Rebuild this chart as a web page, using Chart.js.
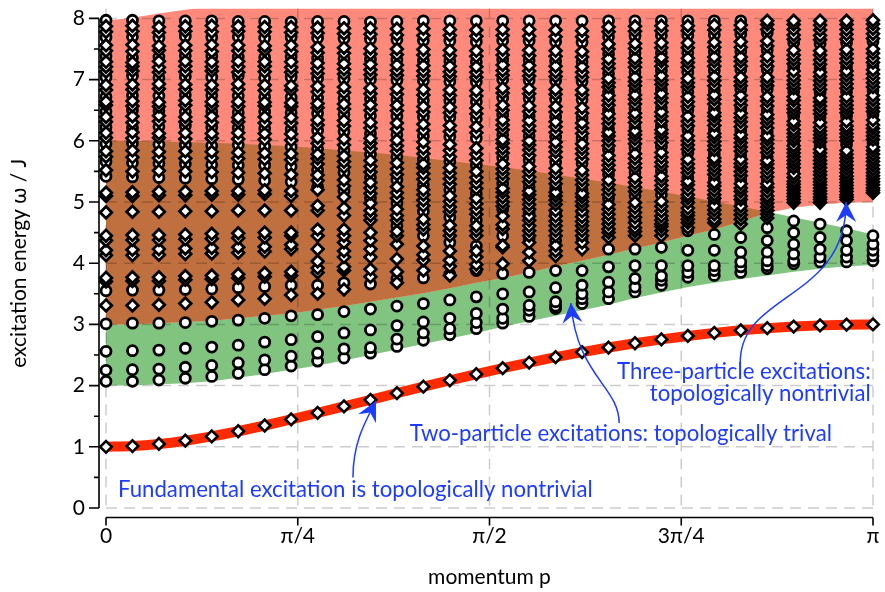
<!DOCTYPE html>
<html>
<head>
<meta charset="utf-8">
<title>Excitation spectrum</title>
<script src="https://cdn.jsdelivr.net/npm/chart.js@4.4.0/dist/chart.umd.min.js"></script>
<style>
  html, body { margin: 0; padding: 0; background: #fff; }
  #wrap { width: 885px; height: 592px; }
</style>
</head>
<body>
<div id="wrap"><canvas id="spectrum" width="885" height="592"></canvas></div>
<script>
// momentum p of each column, in units of pi
const momentum = [0, 0.0345, 0.0690, 0.1034, 0.1379, 0.1724, 0.2069, 0.2414, 0.2759, 0.3103,
  0.3448, 0.3793, 0.4138, 0.4483, 0.4828, 0.5172, 0.5517, 0.5862, 0.6207, 0.6552,
  0.6897, 0.7241, 0.7586, 0.7931, 0.8276, 0.8621, 0.8966, 0.9310, 0.9655, 1];

// single-particle branch
const fundamental = [1.000, 1.012, 1.046, 1.100, 1.170, 1.254, 1.348, 1.448, 1.553, 1.660,
  1.768, 1.876, 1.982, 2.086, 2.187, 2.284, 2.376, 2.464, 2.546, 2.622,
  2.692, 2.755, 2.811, 2.861, 2.903, 2.938, 2.965, 2.984, 2.996, 3.000];

// continuum edges
const twoLow = [2.00, 2.00, 2.02, 2.04, 2.07, 2.13, 2.19, 2.26, 2.33, 2.41,
  2.50, 2.59, 2.68, 2.77, 2.86, 2.96, 3.05, 3.14, 3.23, 3.32,
  3.43, 3.52, 3.61, 3.68, 3.74, 3.80, 3.86, 3.91, 3.95, 3.97];
const twoHigh = [6.00, 6.00, 5.99, 5.98, 5.97, 5.95, 5.93, 5.91, 5.88, 5.84,
  5.81, 5.77, 5.72, 5.67, 5.62, 5.57, 5.51, 5.45, 5.38, 5.32,
  5.24, 5.17, 5.09, 5.01, 4.93, 4.84, 4.75, 4.66, 4.57, 4.47];
const threeLow = [3.00, 3.00, 3.02, 3.04, 3.06, 3.10, 3.14, 3.18, 3.24, 3.30,
  3.37, 3.44, 3.51, 3.59, 3.68, 3.76, 3.85, 3.95, 4.04, 4.14,
  4.24, 4.34, 4.45, 4.55, 4.68, 4.82, 4.91, 4.96, 4.99, 5.00];
const threeHigh = [7.96, 8.01, 8.08, 8.14, 8.20, 8.27, 8.33, 8.39, 8.45, 8.50,
  8.55, 8.60, 8.64, 8.68, 8.72, 8.76, 8.79, 8.82, 8.85, 8.87,
  8.89, 8.91, 8.93, 8.94, 8.95, 8.96, 8.97, 8.98, 8.99, 9.00];

// finite-chain eigenvalues per momentum column: circles and diamonds
const circleLevels = [
  [2.07,2.25,2.56,3.01,3.55,5.42,5.66,5.95,6.22,6.48,6.72,7.04,7.38,7.69,7.97],
  [2.07,2.26,2.57,3.02,3.56,5.41,5.64,5.96,6.21,6.50,6.74,7.06,7.36,7.70,7.97],
  [2.09,2.27,2.58,3.02,3.56,5.40,5.63,5.94,6.23,6.49,6.73,7.03,7.37,7.68,7.96],
  [2.12,2.30,2.61,3.03,3.57,5.39,5.62,5.93,6.24,6.47,6.75,7.05,7.39,7.71,7.96],
  [2.15,2.33,2.63,3.05,3.58,5.38,5.61,5.92,6.22,6.48,6.74,7.04,7.38,7.69,7.96],
  [2.20,2.37,2.66,3.07,3.60,5.37,5.60,5.93,6.21,6.46,6.73,7.06,7.37,7.70,7.95],
  [2.26,2.42,2.71,3.10,3.62,5.35,5.60,5.91,6.20,6.47,6.72,7.03,7.36,7.68,7.95],
  [2.32,2.48,2.75,3.14,3.64,5.33,5.58,5.90,6.19,6.46,6.71,7.04,7.37,7.69,7.94],
  [2.40,2.53,2.80,3.16,3.64,5.25,5.52,5.87,6.17,6.45,6.70,7.02,7.35,7.68,7.95],
  [2.45,2.60,2.86,3.21,3.68,5.18,5.48,5.84,6.15,6.43,6.69,7.01,7.34,7.67,7.95],
  [2.53,2.62,2.91,3.25,3.66,5.06,5.40,5.78,6.12,6.41,6.68,7.00,7.33,7.66,7.94],
  [2.64,2.76,2.98,3.30,3.75,4.61,4.98,5.36,5.74,6.10,6.40,6.67,6.99,7.32,7.65,7.95],
  [2.74,2.86,3.04,3.34,3.76,4.45,4.85,5.28,5.70,6.08,6.39,6.66,6.98,7.31,7.64,7.96],
  [2.83,2.93,3.10,3.40,3.82,4.34,4.75,5.20,5.66,6.06,6.38,6.65,6.97,7.30,7.63,7.96],
  [2.93,3.03,3.18,3.45,3.88,4.28,4.70,5.14,5.60,6.04,6.36,6.64,6.96,7.29,7.62,7.96],
  [3.02,3.10,3.25,3.50,3.83,4.45,4.88,5.30,5.72,6.10,6.42,6.70,7.00,7.32,7.64,7.96],
  [3.13,3.23,3.31,3.53,3.85,4.40,4.82,5.25,5.68,6.08,6.40,6.69,6.99,7.31,7.63,7.96],
  [3.26,3.30,3.37,3.60,3.88,4.37,4.80,5.22,5.65,6.06,6.39,6.68,6.98,7.30,7.62,7.96],
  [3.34,3.42,3.50,3.64,3.88,4.40,4.82,5.20,5.63,6.04,6.37,6.67,6.97,7.29,7.61,7.96],
  [3.42,3.53,3.69,3.94,4.23,4.65,5.05,5.45,5.85,6.20,6.50,6.80,7.10,7.42,7.70,7.96],
  [3.53,3.61,3.75,3.96,4.23,4.70,5.10,5.48,5.88,6.22,6.52,6.82,7.12,7.43,7.71,7.96],
  [3.64,3.72,3.79,3.96,4.26,4.72,5.12,5.50,5.90,6.24,6.54,6.84,7.14,7.44,7.72,7.96],
  [3.77,3.85,3.96,4.21,4.53,5.00,5.40,5.80,6.18,6.50,6.80,7.12,7.44,7.72,7.96],
  [3.80,3.88,3.96,4.21,4.47,5.00,5.38,5.78,6.18,6.52,6.82,7.14,7.45,7.73,7.96],
  [3.85,3.94,4.02,4.18,4.42,4.98,5.36,5.76,6.16,6.52,6.84,7.16,7.46,7.74,7.96],
  [3.91,3.96,4.04,4.18,4.37,4.58,5.34,5.74,6.14,6.50,6.84,7.16,7.48,7.76],
  [3.99,4.04,4.15,4.31,4.50,4.69,5.50,5.95,6.40,6.80,7.20,7.60],
  [4.02,4.10,4.23,4.42,4.64,5.45,5.92,6.38,6.78,7.18,7.58],
  [4.02,4.10,4.21,4.37,4.53,5.48,5.94,6.40,6.80,7.20,7.60],
  [4.04,4.12,4.21,4.31,4.45,5.50,5.96,6.42,6.82,7.22,7.62]
];
const diamondLevels = [
  [3.31,3.70,3.76,4.13,4.21,4.37,4.45,4.83,5.10,5.15,5.52,5.74,5.83,6.05,6.13,6.31,6.39,6.58,6.64,6.83,6.91,7.13,7.21,7.29,7.47,7.56,7.78,7.87],
  [3.31,3.71,3.77,4.13,4.22,4.38,4.46,4.84,5.10,5.16,5.50,5.73,5.84,6.04,6.14,6.30,6.40,6.57,6.65,6.84,6.92,7.14,7.22,7.28,7.46,7.57,7.79,7.88],
  [3.32,3.71,3.77,4.14,4.23,4.38,4.46,4.84,5.11,5.17,5.51,5.72,5.82,6.05,6.12,6.32,6.41,6.56,6.63,6.85,6.93,7.12,7.20,7.30,7.48,7.55,7.77,7.86],
  [3.34,3.73,3.79,4.15,4.24,4.39,4.47,4.85,5.11,5.17,5.50,5.71,5.83,6.03,6.13,6.31,6.39,6.58,6.66,6.84,6.92,7.13,7.22,7.30,7.47,7.56,7.79,7.87],
  [3.36,3.74,3.80,4.16,4.25,4.40,4.48,4.85,5.12,5.18,5.49,5.72,5.82,6.04,6.12,6.30,6.40,6.57,6.64,6.83,6.91,7.14,7.21,7.29,7.46,7.57,7.78,7.88],
  [3.40,3.76,3.82,4.17,4.26,4.41,4.49,4.86,5.12,5.18,5.48,5.71,5.81,6.03,6.13,6.31,6.38,6.56,6.64,6.84,6.93,7.12,7.21,7.30,7.47,7.56,7.79,7.87],
  [3.42,3.78,3.84,4.19,4.27,4.42,4.50,4.86,5.13,5.19,5.47,5.70,5.80,6.02,6.12,6.29,6.39,6.57,6.63,6.82,6.91,7.13,7.22,7.29,7.48,7.55,7.78,7.86],
  [3.48,3.80,3.86,4.23,4.30,4.45,4.50,4.86,5.10,5.18,5.45,5.69,5.79,6.01,6.11,6.29,6.38,6.56,6.62,6.83,6.90,7.12,7.20,7.29,7.46,7.56,7.77,7.86],
  [3.50,3.85,3.92,4.03,4.23,4.45,4.55,4.86,4.94,5.20,5.35,5.44,5.62,5.71,5.78,5.96,6.05,6.26,6.34,6.54,6.61,6.80,6.89,7.10,7.18,7.27,7.44,7.53,7.76,7.85],
  [3.57,3.88,3.94,4.10,4.20,4.34,4.45,4.55,4.78,4.90,5.08,5.26,5.36,5.57,5.66,5.75,5.93,6.03,6.24,6.33,6.52,6.60,6.79,6.88,7.09,7.17,7.26,7.43,7.52,7.75,7.84],
  [3.78,3.90,4.10,4.23,4.37,4.50,4.70,4.78,4.86,4.98,5.14,5.23,5.32,5.49,5.58,5.68,5.87,5.96,6.04,6.21,6.30,6.50,6.59,6.77,6.86,7.08,7.16,7.25,7.42,7.51,7.74,7.84],
  [3.68,3.86,4.07,4.31,4.45,4.52,4.70,4.78,4.88,5.06,5.15,5.25,5.45,5.54,5.64,5.83,5.92,6.01,6.19,6.29,6.49,6.58,6.76,6.85,7.07,7.15,7.24,7.41,7.50,7.73,7.83],
  [3.88,4.05,4.14,4.28,4.55,4.63,4.72,4.94,5.03,5.12,5.20,5.37,5.46,5.56,5.62,5.79,5.88,5.98,6.17,6.27,6.47,6.56,6.75,6.84,7.06,7.14,7.23,7.40,7.49,7.72,7.83],
  [3.80,3.95,4.05,4.20,4.45,4.53,4.62,4.84,4.92,5.01,5.10,5.29,5.38,5.47,5.56,5.74,5.84,5.94,6.15,6.25,6.46,6.55,6.74,6.83,7.05,7.13,7.22,7.39,7.48,7.72,7.82],
  [3.90,3.98,4.10,4.20,4.45,4.53,4.61,4.80,4.88,4.97,5.06,5.22,5.31,5.40,5.50,5.68,5.78,5.88,6.13,6.23,6.44,6.53,6.73,6.82,7.04,7.12,7.21,7.38,7.47,7.71,7.81],
  [3.99,4.26,4.29,4.56,4.63,4.77,4.93,5.00,5.08,5.16,5.22,5.38,5.46,5.54,5.62,5.80,5.88,5.96,6.02,6.18,6.26,6.34,6.50,6.58,6.78,6.86,7.07,7.15,7.24,7.40,7.49,7.72,7.82],
  [4.04,4.18,4.34,4.45,4.53,4.61,4.70,4.77,4.88,4.96,5.04,5.12,5.18,5.33,5.41,5.50,5.58,5.76,5.85,5.93,6.00,6.16,6.24,6.33,6.48,6.57,6.77,6.85,7.06,7.14,7.23,7.39,7.48,7.71,7.82],
  [4.12,4.20,4.29,4.45,4.53,4.61,4.69,4.77,4.86,4.96,5.03,5.10,5.16,5.30,5.38,5.47,5.55,5.73,5.82,5.90,5.98,6.14,6.23,6.31,6.47,6.56,6.76,6.84,7.05,7.13,7.22,7.38,7.47,7.70,7.81],
  [4.23,4.34,4.45,4.53,4.61,4.68,4.76,4.85,4.94,5.01,5.08,5.14,5.28,5.36,5.44,5.52,5.70,5.79,5.87,5.95,6.12,6.21,6.29,6.45,6.54,6.75,6.83,7.04,7.12,7.21,7.37,7.46,7.70,7.80],
  [4.42,4.50,4.56,4.64,4.72,4.80,4.88,4.96,5.12,5.20,5.28,5.36,5.52,5.60,5.68,5.76,5.92,6.00,6.08,6.14,6.28,6.36,6.44,6.58,6.66,6.74,6.88,6.95,7.02,7.18,7.26,7.34,7.50,7.58,7.78,7.86],
  [4.45,4.52,4.58,4.66,4.75,4.83,4.91,4.99,5.17,5.24,5.32,5.40,5.56,5.63,5.71,5.79,5.95,6.03,6.10,6.16,6.30,6.38,6.45,6.60,6.68,6.75,6.90,6.97,7.04,7.20,7.28,7.35,7.51,7.59,7.79,7.87],
  [4.45,4.53,4.60,4.64,4.70,4.77,4.85,4.93,5.01,5.20,5.27,5.35,5.42,5.58,5.65,5.73,5.81,5.97,6.05,6.12,6.18,6.32,6.40,6.47,6.62,6.70,6.77,6.92,6.99,7.06,7.22,7.30,7.36,7.52,7.60,7.80,7.88],
  [4.58,4.66,4.72,4.78,4.83,4.90,4.99,5.06,5.12,5.20,5.28,5.34,5.48,5.55,5.62,5.70,5.86,5.93,6.00,6.08,6.24,6.32,6.40,6.56,6.64,6.72,6.88,6.95,7.02,7.20,7.28,7.35,7.52,7.60,7.80,7.88],
  [4.66,4.72,4.80,4.87,4.94,5.06,5.12,5.19,5.26,5.32,5.45,5.52,5.59,5.66,5.72,5.85,5.92,5.99,6.06,6.12,6.25,6.33,6.40,6.46,6.60,6.68,6.75,6.90,6.98,7.05,7.22,7.30,7.37,7.53,7.61,7.81,7.89],
  [4.64,4.72,4.79,4.86,4.93,5.04,5.10,5.17,5.23,5.30,5.43,5.50,5.57,5.63,5.70,5.83,5.90,5.97,6.04,6.10,6.23,6.31,6.38,6.45,6.58,6.66,6.74,6.90,6.97,7.04,7.22,7.30,7.37,7.53,7.62,7.81,7.89],
  [4.74,4.80,4.86,4.92,4.98,5.04,5.10,5.17,5.24,5.30,5.41,5.48,5.55,5.62,5.68,5.81,5.88,5.95,6.02,6.08,6.21,6.29,6.36,6.43,6.57,6.65,6.72,6.90,6.97,7.04,7.22,7.30,7.38,7.55,7.63,7.82,7.90,7.96],
  [4.99,5.04,5.09,5.14,5.19,5.24,5.29,5.34,5.40,5.46,5.56,5.62,5.68,5.74,5.80,5.86,5.92,6.00,6.06,6.12,6.18,6.26,6.32,6.46,6.52,6.58,6.66,6.72,6.86,6.92,6.99,7.06,7.14,7.26,7.33,7.40,7.48,7.66,7.73,7.82,7.90,7.96],
  [4.99,5.04,5.08,5.13,5.18,5.23,5.28,5.33,5.38,5.44,5.50,5.56,5.62,5.68,5.74,5.80,5.86,5.98,6.04,6.10,6.16,6.22,6.30,6.44,6.50,6.57,6.64,6.70,6.84,6.91,6.98,7.05,7.12,7.25,7.32,7.40,7.47,7.65,7.72,7.81,7.89,7.96],
  [5.04,5.08,5.12,5.17,5.22,5.27,5.32,5.37,5.42,5.48,5.54,5.60,5.66,5.72,5.78,5.84,6.00,6.06,6.12,6.18,6.24,6.32,6.46,6.52,6.58,6.65,6.72,6.86,6.93,7.00,7.07,7.14,7.27,7.34,7.42,7.49,7.66,7.74,7.82,7.90,7.96],
  [5.15,5.19,5.23,5.28,5.33,5.38,5.43,5.48,5.54,5.60,5.66,5.72,5.78,5.84,5.90,6.02,6.08,6.14,6.20,6.26,6.34,6.48,6.54,6.60,6.67,6.74,6.88,6.95,7.02,7.09,7.16,7.28,7.35,7.43,7.50,7.67,7.75,7.83,7.91,7.97]
];

const xTickValues = [0, 0.25, 0.5, 0.75, 1];
const xTickLabels = ['0', 'π/4', 'π/2', '3π/4', 'π'];
const yTickValues = [0, 1, 2, 3, 4, 5, 6, 7, 8];

const FONT = 'Lato, "Open Sans", "DejaVu Sans", sans-serif';
const BLUE = '#1e3cff';
const GREEN = '#80c47f';
const RED = '#ff8a7c';
const BROWN = '#c0703e';

// annotation anchors, in (p/pi, omega)
const notes = [
  { text: 'Fundamental excitation is topologically nontrivial', at: [0.0156, 0.29], align: 'left' },
  { text: 'Two-particle excitations: topologically trival', at: [0.396, 1.215], align: 'left' },
  { text: 'Three-particle excitations:', at: [0.997, 2.22], align: 'right' },
  { text: 'topologically nontrivial', at: [0.997, 1.86], align: 'right' }
];
const arrows = [
  [[0.322, 0.50], [0.322, 1.10], [0.340, 1.45], [0.352, 1.75]],
  [[0.669, 1.39], [0.669, 1.99], [0.614, 2.15], [0.606, 3.35]],
  [[0.827, 2.35], [0.824, 3.53], [0.965, 3.37], [0.965, 5.00]]
];

const toXY = (xs, ys) => ys.map((y, i) => ({ x: xs[i], y }));
function columnPoints(levels) {
  const pts = [];
  levels.forEach((col, j) => col.forEach(w => pts.push({ x: momentum[j], y: w })));
  return pts;
}

// dashed grid goes over the coloured bands but under the markers
const dashedGrid = {
  id: 'dashedGrid',
  afterDatasetDraw(chart, args) {
    if (args.index !== 4) return;
    const { ctx, chartArea: a, scales: { x, y } } = chart;
    ctx.save();
    ctx.strokeStyle = 'rgba(0,0,0,0.2)';
    ctx.lineWidth = 1.5;
    ctx.setLineDash([11, 7]);
    ctx.beginPath();
    xTickValues.forEach(v => {
      const px = x.getPixelForValue(v);
      ctx.moveTo(px, a.top);
      ctx.lineTo(px, a.bottom);
    });
    yTickValues.forEach(v => {
      const py = y.getPixelForValue(v);
      ctx.moveTo(a.left, py);
      ctx.lineTo(a.right, py);
    });
    ctx.stroke();
    ctx.restore();
  }
};

function arrowHead(ctx, tx, ty, fx, fy) {
  const ang = Math.atan2(ty - fy, tx - fx);
  const c = Math.cos(ang), s = Math.sin(ang);
  const len = 20, half = 10, notch = 13;
  ctx.beginPath();
  ctx.moveTo(tx, ty);
  ctx.lineTo(tx - len * c - half * s, ty - len * s + half * c);
  ctx.lineTo(tx - notch * c, ty - notch * s);
  ctx.lineTo(tx - len * c + half * s, ty - len * s - half * c);
  ctx.closePath();
  ctx.fill();
}

const annotations = {
  id: 'annotations',
  afterDatasetsDraw(chart) {
    const { ctx, scales: { x, y } } = chart;
    const P = ([p, w]) => [x.getPixelForValue(p), y.getPixelForValue(w)];
    ctx.save();
    ctx.fillStyle = BLUE;
    ctx.strokeStyle = BLUE;
    ctx.font = '22.2px ' + FONT;
    ctx.textBaseline = 'middle';
    notes.forEach(n => {
      const [px, py] = P(n.at);
      ctx.textAlign = n.align;
      ctx.fillText(n.text, px, py);
    });
    ctx.lineWidth = 1.5;
    arrows.forEach(a => {
      const [s, c1, c2, t] = a.map(P);
      ctx.beginPath();
      ctx.moveTo(s[0], s[1]);
      ctx.bezierCurveTo(c1[0], c1[1], c2[0], c2[1], t[0], t[1]);
      ctx.stroke();
      arrowHead(ctx, t[0], t[1], c2[0], c2[1]);
    });
    ctx.restore();
  }
};

// axes drawn detached from the plot area, like the original figure
const offsetAxes = {
  id: 'offsetAxes',
  afterDraw(chart) {
    const { ctx, chartArea: a, scales: { x, y } } = chart;
    const ax = a.left - 7;
    const ay = a.bottom + 9.5;
    ctx.save();
    ctx.strokeStyle = '#000';
    ctx.fillStyle = '#000';
    ctx.lineWidth = 1.6;
    ctx.beginPath();
    ctx.moveTo(ax, y.getPixelForValue(0));
    ctx.lineTo(ax, y.getPixelForValue(8));
    for (let v = 0; v <= 8; v += 0.5) {
      const py = y.getPixelForValue(v);
      ctx.moveTo(ax, py);
      ctx.lineTo(ax - (v % 1 === 0 ? 10 : 5), py);
    }
    ctx.moveTo(x.getPixelForValue(0), ay);
    ctx.lineTo(x.getPixelForValue(1), ay);
    xTickValues.forEach(v => {
      const px = x.getPixelForValue(v);
      ctx.moveTo(px, ay);
      ctx.lineTo(px, ay + 8);
    });
    ctx.stroke();

    ctx.font = '21px ' + FONT;
    ctx.textBaseline = 'middle';
    ctx.textAlign = 'right';
    yTickValues.forEach(v => ctx.fillText(String(v), ax - 14, y.getPixelForValue(v)));
    ctx.textAlign = 'center';
    xTickValues.forEach((v, i) => ctx.fillText(xTickLabels[i], x.getPixelForValue(v), ay + 19));

    ctx.font = '21px ' + FONT;
    ctx.fillText('momentum p', (x.getPixelForValue(0) + x.getPixelForValue(1)) / 2, 577);
    ctx.translate(19, (y.getPixelForValue(0) + y.getPixelForValue(8)) / 2);
    ctx.rotate(-Math.PI / 2);
    ctx.fillText('excitation energy ω / J', 0, 0);
    ctx.restore();
  }
};

const band = (label, values, fill, order) => ({
  label,
  data: toXY(momentum, values),
  borderColor: 'rgba(0,0,0,0)',
  borderWidth: 0,
  pointRadius: 0,
  fill,
  order
});

const marker = {
  pointBackgroundColor: '#fff',
  pointBorderColor: '#000',
  clip: false
};

new Chart(document.getElementById('spectrum'), {
  type: 'line',
  data: {
    datasets: [
      band('two-particle lower edge', twoLow, false, 20),
      band('two-particle continuum', twoHigh, { target: 0, above: GREEN, below: GREEN }, 19),
      band('three-particle lower edge', threeLow, false, 18),
      band('three-particle continuum', threeHigh, { target: 2, above: RED, below: RED }, 17),
      band('overlap', twoHigh, { target: 2, above: BROWN, below: 'rgba(0,0,0,0)' }, 16),
      {
        ...marker,
        label: 'fundamental',
        data: toXY(momentum, fundamental),
        borderColor: '#ff2a00',
        borderWidth: 10,
        cubicInterpolationMode: 'monotone',
        pointStyle: 'rectRot',
        pointRadius: 5.8,
        pointBorderWidth: 2.6,
        order: 3
      },
      {
        ...marker,
        type: 'scatter',
        label: 'circles',
        data: columnPoints(circleLevels),
        pointStyle: 'circle',
        pointRadius: 5.0,
        pointBorderWidth: 2.8,
        showLine: false,
        order: 2
      },
      {
        ...marker,
        type: 'scatter',
        label: 'diamonds',
        data: columnPoints(diamondLevels),
        pointStyle: 'rectRot',
        pointRadius: 5.8,
        pointBorderWidth: 2.8,
        showLine: false,
        order: 1
      }
    ]
  },
  options: {
    responsive: false,
    animation: false,
    layout: { padding: { left: 106, right: 12, top: 4, bottom: 84 } },
    scales: {
      x: { type: 'linear', min: 0, max: 1, display: false },
      y: { type: 'linear', min: 0, max: 8.16, display: false }
    },
    plugins: { legend: { display: false }, tooltip: { enabled: false } }
  },
  plugins: [dashedGrid, annotations, offsetAxes]
});
</script>
</body>
</html>
